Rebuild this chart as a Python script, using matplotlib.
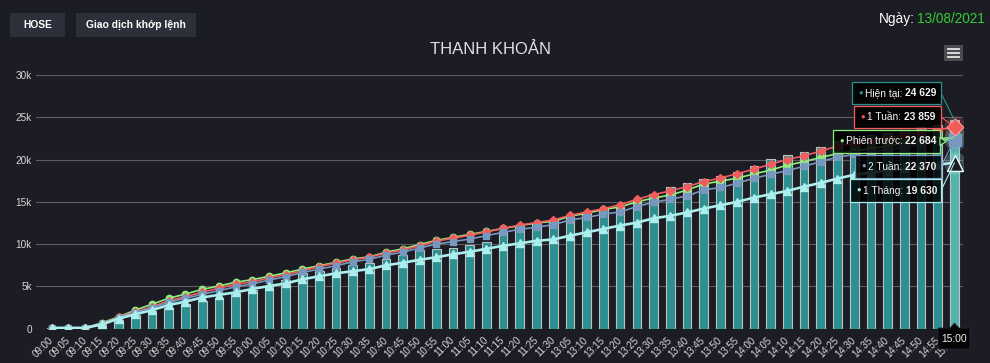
import numpy as np
import matplotlib.pyplot as plt
from matplotlib.patches import Rectangle, Polygon, ConnectionPatch
from matplotlib.ticker import FixedLocator, FuncFormatter
from matplotlib.transforms import ScaledTranslation

plt.rcParams['font.family'] = ['Liberation Sans', 'DejaVu Sans']

W, H = 990, 363
BG = '#1c1c25'
TEAL = '#2b908f'
GREEN = '#90ee7e'
RED = '#f45b5b'
BLUE = '#7798bf'
CYAN = '#aaeeee'

times = ['09:00', '09:05', '09:10', '09:15', '09:20', '09:25', '09:30', '09:35', '09:40', '09:45',
         '09:50', '09:55', '10:00', '10:05', '10:10', '10:15', '10:20', '10:25', '10:30', '10:35',
         '10:40', '10:45', '10:50', '10:55', '11:00', '11:05', '11:10', '11:15', '11:20', '11:25',
         '11:30', '13:05', '13:10', '13:15', '13:20', '13:25', '13:30', '13:35', '13:40', '13:45',
         '13:50', '13:55', '14:00', '14:05', '14:10', '14:15', '14:20', '14:25', '14:30', '14:35',
         '14:40', '14:45', '14:50', '14:55', '15:00']

# Hien tai (columns)
hien_tai = [100, 100, 100, 500, 1000, 1600, 2100, 2500, 2900, 3300,
            3600, 4200, 4600, 5100, 5800, 6600, 6800, 7200, 7500, 7800,
            8300, 8700, 9300, 9400, 9600, 9900, 10200, 11500, 12200, 12500,
            12800, 13200, 13700, 14200, 14400, 15100, 15900, 16700, 17200, 17650,
            18050, 18550, 19200, 20050, 20500, 20900, 21500, 22200, 22600, 22900,
            23200, 23500, 23800, 24100, 24629]

phien_truoc = [100, 100, 100, 700, 1400, 2200, 2900, 3600, 4100, 4650,
               5050, 5500, 5800, 6200, 6600, 7050, 7450, 7850, 8250, 8500,
               9050, 9450, 9950, 10450, 10800, 11150, 11500, 11850, 12200, 12500,
               12700, 13300, 13650, 14100, 14400, 15000, 15450, 15800, 16400, 17100,
               17450, 17800, 18300, 18750, 19350, 19750, 20250, 20700, 21000, 21300,
               21600, 21900, 22150, 22400, 22684]

tuan_1 = [100, 100, 100, 600, 1350, 2000, 2600, 3300, 3800, 4300,
          4800, 5250, 5550, 6000, 6400, 6850, 7350, 7750, 8150, 8450,
          8950, 9300, 9800, 10350, 10700, 11050, 11450, 11850, 12250, 12550,
          12850, 13400, 13800, 14200, 14650, 15300, 15850, 16300, 16800, 17400,
          17800, 18350, 18850, 19450, 20000, 20450, 21000, 21600, 21900, 22200,
          22500, 22900, 23200, 23500, 23859]

tuan_2 = [100, 100, 100, 550, 1300, 1900, 2500, 3100, 3600, 4050,
          4500, 4950, 5300, 5750, 6150, 6650, 7050, 7450, 7900, 8200,
          8700, 9050, 9550, 10000, 10300, 10600, 11000, 11400, 11750, 12000,
          12300, 12850, 13150, 13550, 13800, 14450, 14950, 15300, 15700, 16400,
          16700, 17200, 17800, 18250, 18700, 19200, 19750, 20300, 20600, 20900,
          21200, 21500, 21800, 22100, 22370]

thang_1 = [100, 100, 100, 500, 1200, 1700, 2200, 2800, 3200, 3700,
           4000, 4300, 4700, 5050, 5350, 5850, 6200, 6550, 6800, 7050,
           7500, 7800, 8150, 8450, 8800, 9100, 9450, 9800, 10100, 10400,
           10550, 11000, 11400, 11800, 12200, 12550, 13050, 13350, 13750, 14200,
           14600, 15000, 15500, 15900, 16300, 16800, 17250, 17750, 18200, 18450,
           18700, 18950, 19200, 19400, 19630]


def fx(px):
    return px / W


def fy(py):
    return 1 - py / H


def draw_header(fig):
    # exchange / order-type buttons
    for x0, x1, txt in [(10, 65, 'HOSE'), (76, 196, 'Giao dịch khớp lệnh')]:
        fig.add_artist(Rectangle((fx(x0), fy(37)), fx(x1 - x0), 24 / H, transform=fig.transFigure,
                                 facecolor='#2c303a', edgecolor='none', zorder=1))
        fig.text(fx((x0 + x1) / 2), fy(25), txt, color='white', fontsize=7.4, fontweight='bold',
                 ha='center', va='center')
    r = fig.canvas.get_renderer()
    d = fig.text(fx(985), fy(19), '13/08/2021', color='#33cc33', fontsize=9.8, ha='right', va='center')
    bb = d.get_window_extent(r)
    fig.text(fx(bb.x0 - 3), fy(19), 'Ngày:', color='white', fontsize=9.8, ha='right', va='center')
    fig.text(fx(490), fy(50), 'THANH KHOẢN', color='#e0e0e3', fontsize=12, ha='center', va='center')
    # menu icon
    fig.add_artist(Rectangle((fx(944), fy(61)), fx(19), 16 / H, transform=fig.transFigure,
                             facecolor='#4b4b52', edgecolor='none', zorder=1))
    for yy in (49, 53, 57):
        fig.add_artist(plt.Line2D([fx(948), fx(959)], [fy(yy), fy(yy)], transform=fig.transFigure,
                                  color='#e6e6e6', lw=1.3, zorder=2))


def draw_tip(fig, ax, box, color, label, value, point, pointer=False):
    r = fig.canvas.get_renderer()
    x0, x1, y0, y1 = box
    yc = (y0 + y1) / 2
    con = ConnectionPatch(xyA=(x1, H - yc), coordsA='figure pixels', xyB=point, coordsB='data',
                          axesB=ax, color=color, lw=0.8, zorder=4)
    fig.add_artist(con)
    fig.add_artist(Rectangle((fx(x0), fy(y1)), fx(x1 - x0), (y1 - y0) / H, transform=fig.transFigure,
                             facecolor=(0, 0, 0, 0.85), edgecolor=color, lw=0.9, zorder=5))
    if pointer:
        fig.add_artist(Polygon([(fx(x1), fy(yc - 4)), (fx(x1 + 6), fy(yc)), (fx(x1), fy(yc + 4))],
                               closed=True, transform=fig.transFigure, facecolor=(0, 0, 0, 0.85),
                               edgecolor=color, lw=0.9, zorder=5))
    fig.text(fx(x0 + 8.5), fy(yc), '●', color=color, fontsize=5.5, ha='center', va='center', zorder=6)
    t = fig.text(fx(x0 + 13), fy(yc), label, color='#f0f0f0', fontsize=7.35, ha='left', va='center', zorder=6)
    bb = t.get_window_extent(r)
    fig.text(fx(bb.x1 + 2.5), fy(yc), value, color='#f0f0f0', fontsize=7.35, fontweight='bold',
             ha='left', va='center', zorder=6)


fig = plt.figure(figsize=(W / 100, H / 100), dpi=100, facecolor=BG)
ax = fig.add_axes([fx(36), fy(328.7), fx(962.7 - 36), (328.7 - 75) / H])
ax.set_facecolor(BG)

x = np.arange(len(times))
bar_colors = [TEAL] * (len(times) - 1) + ['#53b4ae']
ax.bar(x, hien_tai, width=0.52, color=bar_colors, edgecolor='#c0c0c0', linewidth=0.8, zorder=2)

ax.plot(x, phien_truoc, color=GREEN, lw=1.2, marker='o', ms=4.6, zorder=3)
ax.plot(x, tuan_1, color=RED, lw=1.2, marker='D', ms=4.0, zorder=3)
ax.plot(x, tuan_2, color=BLUE, lw=1.2, marker='s', ms=5.0, zorder=3)
ax.plot(x, thang_1, color=CYAN, lw=1.9, marker='^', ms=5.4, zorder=3)

# hover state on the last point
last = len(times) - 1
for vals, c in [(phien_truoc, GREEN), (tuan_1, RED), (tuan_2, BLUE), (thang_1, CYAN)]:
    ax.scatter(last, vals[-1], s=260, color=c, alpha=0.22, lw=0, zorder=4)
ax.scatter(last, tuan_2[-1], marker='s', s=70, color=BLUE, zorder=5)
ax.scatter(last, tuan_1[-1], marker='D', s=75, color=RED, edgecolor='#ffb0b0', lw=0.6, zorder=5)
ax.scatter(last, thang_1[-1], marker='^', s=130, color=BG, edgecolor='#e8ffff', lw=1.0, zorder=5)

ax.set_xlim(-0.94, 54.49)
ax.set_ylim(0, 30000)
ax.yaxis.set_major_locator(FixedLocator([0, 5000, 10000, 15000, 20000, 25000, 30000]))
ax.yaxis.set_major_formatter(FuncFormatter(lambda v, p: '0' if v == 0 else f'{int(v / 1000)}k'))
ax.set_xticks(x)
ax.set_xticklabels(times, rotation=45, ha='right', va='center', rotation_mode='anchor')
for lab in ax.get_xticklabels():
    lab.set_transform(lab.get_transform() + ScaledTranslation(3 / 72, 0, fig.dpi_scale_trans))
ax.tick_params(axis='x', length=0, pad=7, labelsize=7, labelcolor='#d8d8d8')
ax.tick_params(axis='y', length=0, pad=3, labelsize=7.2, labelcolor='#d8d8d8')
ax.grid(axis='y', color='#5c5c63', lw=0.8)
ax.set_axisbelow(True)
for s in ax.spines.values():
    s.set_visible(False)

draw_header(fig)

# split tooltip
draw_tip(fig, ax, (852, 941, 82, 104), TEAL, 'Hiện tại:', '24 629', (last, hien_tai[-1]))
draw_tip(fig, ax, (854, 941, 106, 128), RED, '1 Tuần:', '23 859', (last, tuan_1[-1]))
draw_tip(fig, ax, (833, 940, 130, 153), GREEN, 'Phiên trước:', '22 684', (last, phien_truoc[-1]), pointer=True)
draw_tip(fig, ax, (855, 941, 155, 178), BLUE, '2 Tuần:', '22 370', (last, tuan_2[-1]))
draw_tip(fig, ax, (850, 941, 179, 202), CYAN, '1 Tháng:', '19 630', (last, thang_1[-1]))

# x-axis tooltip
fig.add_artist(Polygon([(fx(938), fy(328)), (fx(950), fy(328)), (fx(954.5), fy(323)), (fx(959), fy(328)),
                        (fx(970), fy(328)), (fx(970), fy(349)), (fx(938), fy(349))],
                       closed=True, transform=fig.transFigure, facecolor='#050507', edgecolor='#2a2a30',
                       lw=0.6, zorder=5))
fig.text(fx(954), fy(339), '15:00', color='#f0f0f0', fontsize=7.4, ha='center', va='center', zorder=6)

fig.savefig('out.png', dpi=100, facecolor=BG)
